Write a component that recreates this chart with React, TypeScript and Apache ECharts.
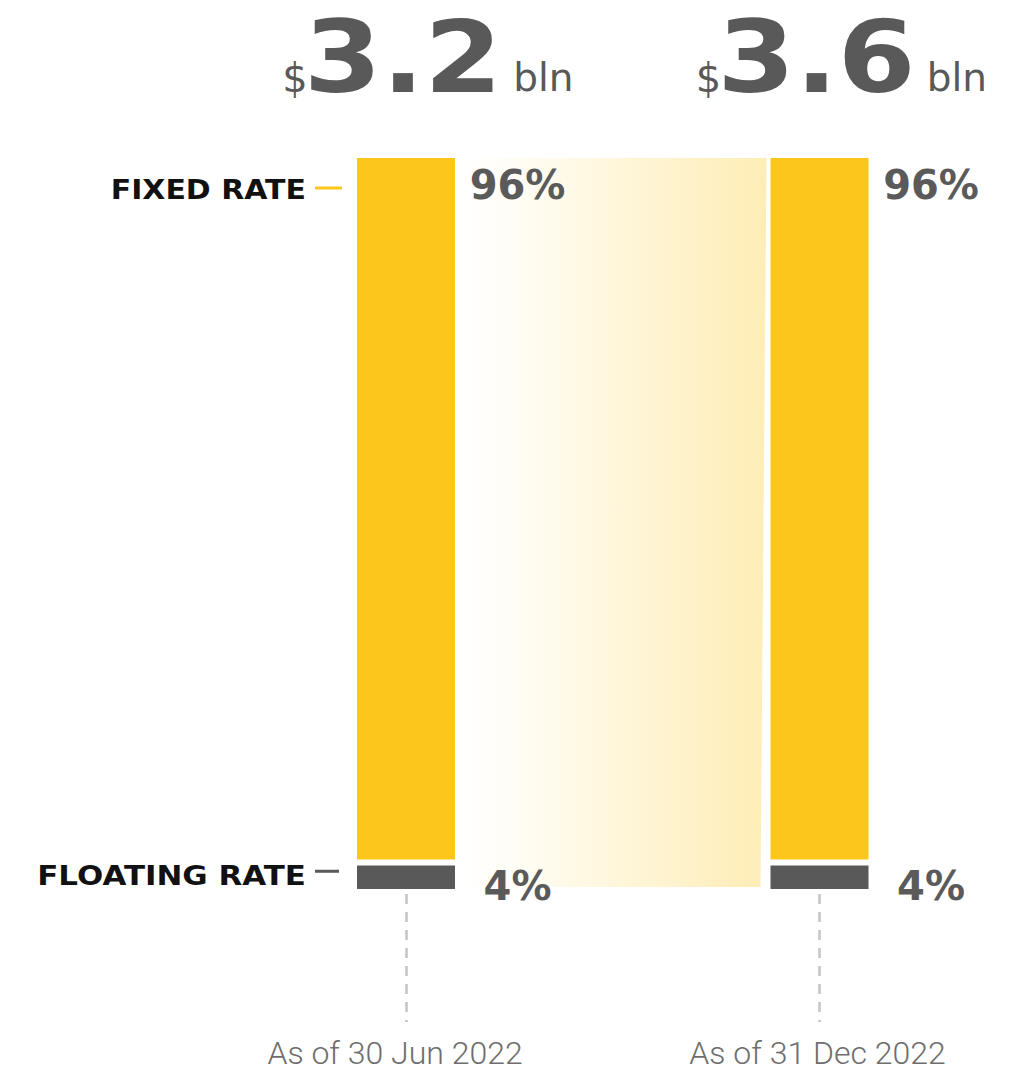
import React, { useEffect, useRef } from 'react';
import * as echarts from 'echarts';

const categories = ['As of 30 Jun 2022', 'As of 31 Dec 2022'];
const totals = ['3.2', '3.6'];
const currency = '$';
const unit = 'bln';
const fixedRate = [96, 96];
const floatingRate = [4, 4];
const seriesNames = ['FIXED RATE', 'FLOATING RATE'];

const YELLOW = '#FCC71A';
const GREY = '#595959';
const LABEL_GREY = '#5a5a5a';

export default function App() {
  const ref = useRef<HTMLDivElement>(null);
  useEffect(() => {
    const chart = echarts.init(ref.current!, null, { renderer: 'svg' });
    const BAR_W = 104;
    const BORDER = 3;
    const pctLabel = (dy: number) => ({
      show: true,
      position: [163.5, dy],
      align: 'center',
      verticalAlign: 'middle',
      formatter: '{c}%',
      fontSize: 40,
      fontWeight: 'bold',
      fontFamily: 'DejaVu Sans',
      color: LABEL_GREY,
    });
    chart.setOption({
      animation: false,
      grid: { left: 199.25, right: 2.75, top: 155, bottom: 1071 - 892 },
      xAxis: {
        type: 'category',
        data: categories,
        axisLine: { show: false },
        axisTick: {
          show: true,
          alignWithLabel: true,
          length: 130,
          lineStyle: { color: '#c4c4c4', width: 2.5, type: [10, 8], dashOffset: -2 },
        },
        axisLabel: {
          margin: 145,
          formatter: (v: string, i: number) => `{l${i}|${v}}`,
          rich: {
            l0: { fontSize: 32, fontFamily: 'Roboto', fontWeight: 300, color: '#6e6e6e', padding: [0, 22, 0, 0] },
            l1: { fontSize: 32, fontFamily: 'Roboto', fontWeight: 300, color: '#6e6e6e', padding: [0, 4, 0, 0] },
          },
        },
      },
      yAxis: { type: 'value', min: 0, max: 100, show: false },
      series: [
        {
          name: seriesNames[1],
          type: 'bar',
          stack: 'total',
          data: floatingRate,
          barWidth: BAR_W,
          itemStyle: { color: GREY, borderColor: '#ffffff', borderWidth: BORDER },
          label: pctLabel(23),
        },
        {
          name: seriesNames[0],
          type: 'bar',
          stack: 'total',
          data: fixedRate,
          barWidth: BAR_W,
          itemStyle: { color: YELLOW, borderColor: '#ffffff', borderWidth: BORDER },
          label: pctLabel(29.5),
        },
      ],
    });

    const px = (i: number, v: number) =>
      chart.convertToPixel({ xAxisIndex: 0, yAxisIndex: 0 }, [i, v]) as number[];
    const halfVis = BAR_W / 2 - BORDER;
    const c0 = px(0, 0)[0];
    const c1 = px(1, 0)[0];
    const yTop = px(0, 100)[1];
    const yBottom = px(0, 0)[1];
    const topVis = yTop + BORDER;
    const bottomVis = yBottom - BORDER;
    const floatTop = px(0, floatingRate[0])[1] + BORDER;
    const floatMid = (floatTop + bottomVis) / 2;

    const canvas = document.createElement('canvas');
    const ctx = canvas.getContext('2d')!;
    const measure = (t: string, font: string) => {
      ctx.font = font;
      return ctx.measureText(t).width;
    };

    const NUM_F = 100;
    const NUM_SX = 1.12;
    const headers: any[] = [];
    [c0, c1].forEach((c, i) => {
      const numW = measure(totals[i], `bold ${NUM_F}px "DejaVu Sans"`) * NUM_SX;
      const cx = c - 3;
      headers.push(
        {
          type: 'text',
          x: cx,
          y: 57,
          scaleX: NUM_SX,
          style: {
            text: totals[i], fontSize: NUM_F, fontWeight: 'bold', fontFamily: 'DejaVu Sans',
            fill: GREY, align: 'center', verticalAlign: 'middle',
          },
        },
        {
          type: 'text',
          x: cx - numW / 2 + 4,
          y: 77.5,
          style: {
            text: currency, fontSize: 40, fontFamily: 'DejaVu Sans',
            fill: GREY, align: 'right', verticalAlign: 'middle',
          },
        },
        {
          type: 'text',
          x: cx + numW / 2 + 11,
          y: 77.5,
          style: {
            text: unit, fontSize: 39, fontFamily: 'DejaVu Sans',
            fill: GREY, align: 'left', verticalAlign: 'middle',
          },
        }
      );
    });

    const barLeft = c0 - halfVis;
    const legend = [
      {
        type: 'text',
        x: barLeft - 51,
        y: topVis + 32.5,
        scaleX: 1.11,
        style: {
          text: seriesNames[0], fontSize: 27, fontWeight: 'bold', fontFamily: 'DejaVu Sans',
          fill: '#111111', align: 'right', verticalAlign: 'middle',
        },
      },
      {
        type: 'line',
        shape: { x1: barLeft - 42, y1: topVis + 30, x2: barLeft - 15, y2: topVis + 30 },
        style: { stroke: YELLOW, lineWidth: 3 },
      },
      {
        type: 'text',
        x: barLeft - 51,
        y: floatMid - 2,
        scaleX: 1.145,
        style: {
          text: seriesNames[1], fontSize: 27, fontWeight: 'bold', fontFamily: 'DejaVu Sans',
          fill: '#111111', align: 'right', verticalAlign: 'middle',
        },
      },
      {
        type: 'line',
        shape: { x1: barLeft - 42, y1: floatMid - 6, x2: barLeft - 18, y2: floatMid - 6 },
        style: { stroke: GREY, lineWidth: 3 },
      },
    ];

    const bandL = c0 + halfVis + 1;
    const bandRTop = c1 - halfVis - 4;
    const bandRBot = c1 - halfVis - 10;
    const band = {
      type: 'polygon',
      z: 0,
      shape: {
        points: [
          [bandL, topVis],
          [bandRTop, topVis],
          [bandRBot, bottomVis - 2],
          [bandL, bottomVis - 2],
        ],
      },
      style: {
        fill: new echarts.graphic.LinearGradient(0, 0, 1, 0, [
          { offset: 0, color: 'rgba(252,199,26,0)' },
          { offset: 0.15, color: 'rgba(252,199,26,0.03)' },
          { offset: 1, color: 'rgba(252,199,26,0.32)' },
        ]),
      },
    };

    chart.setOption({ graphic: [band, ...legend, ...headers] });

    return () => chart.dispose();
  }, []);
  return (
    <div
      ref={ref}
      style={{ position: 'fixed', left: 0, top: 0, width: 1029, height: 1071, background: '#fff' }}
    />
  );
}
